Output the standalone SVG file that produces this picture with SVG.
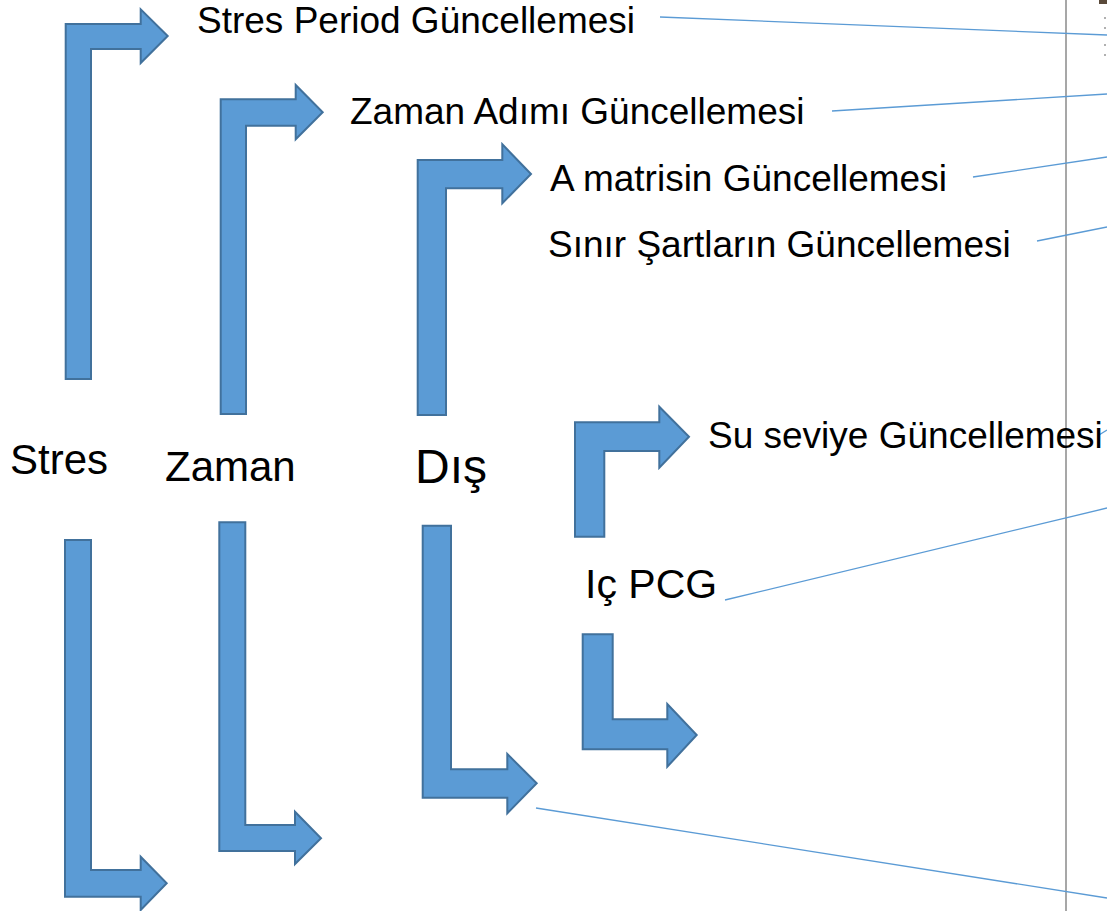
<svg xmlns="http://www.w3.org/2000/svg" width="1107" height="911" viewBox="0 0 1107 911">
  <style>
    .bend { fill: #5B9BD5; stroke: #41719C; stroke-width: 2; stroke-linejoin: miter; }
    .lbl { font-family: "Liberation Sans", Arial, sans-serif; fill: #000; }
    .conn { stroke: #5B9BD5; stroke-width: 1.3; fill: none; }
  </style>
  <rect width="1107" height="911" fill="#fff"/>

  <!-- page edge -->
  <line x1="1066" y1="0" x2="1066" y2="911" stroke="#8a8a8a" stroke-width="1.5"/>
  <rect x="1099" y="0" width="8" height="4" fill="#5a4a3a"/>
  <g fill="#b0b0b0">
    <rect x="1104" y="17" width="2" height="2"/>
    <rect x="1104" y="27" width="2" height="2"/>
    <rect x="1104" y="44" width="2" height="2"/>
    <rect x="1104" y="54" width="2" height="2"/>
  </g>

  <!-- connectors -->
  <g id="connectors">
    <line class="conn" x1="660" y1="17" x2="1107" y2="35"/>
    <line class="conn" x1="832" y1="111" x2="1107" y2="94"/>
    <line class="conn" x1="973" y1="177" x2="1107" y2="157"/>
    <line class="conn" x1="1037" y1="241" x2="1107" y2="227"/>
    <line class="conn" x1="1099" y1="435" x2="1107" y2="430"/>
    <line class="conn" x1="725" y1="600" x2="1107" y2="508"/>
    <line class="conn" x1="536" y1="808" x2="1107" y2="898"/>
  </g>

  <!-- stress period loop -->
  <g id="stres-start">
    <path class="bend" d="M65.7,379 V24 H140.7 V9.3 L167.7,36 L140.7,63 V49 H91 V379 Z"/>
  </g>
  <g id="stres-end">
    <path class="bend" d="M65,540 H91 V870 H140.7 V856.7 L166.7,883.3 L140.7,910 V896.7 H65 Z"/>
  </g>
  <g id="stres">
    <text class="lbl" x="10" y="474" font-size="42">Stres</text>
  </g>
  <g id="stres-period">
    <text class="lbl" x="197" y="33" font-size="37">Stres Period Güncellemesi</text>
  </g>

  <!-- time step loop -->
  <g id="zaman-start">
    <path class="bend" d="M220.7,414 V99.3 H295.7 V85 L322.7,112.3 L295.7,139.3 V125.7 H246 V414 Z"/>
  </g>
  <g id="zaman-end">
    <path class="bend" d="M219.3,522.3 H245.3 V825 H295 V811.7 L321,838.3 L295,864 V851 H219.3 Z"/>
  </g>
  <g id="zaman">
    <text class="lbl" x="165" y="481" font-size="42">Zaman</text>
  </g>
  <g id="zaman-adimi">
    <text class="lbl" x="350" y="124" font-size="37">Zaman Adımı Güncellemesi</text>
  </g>

  <!-- outer iteration loop -->
  <g id="dis-start">
    <path class="bend" d="M417.7,415 V160 H502.3 V144.3 L531,174 L502.3,203.3 V188.3 H446 V415 Z"/>
  </g>
  <g id="dis-end">
    <path class="bend" d="M422.7,525.7 H451 V769.3 H507.3 V754 L536.7,783.3 L507.3,813.3 V797.7 H422.7 Z"/>
  </g>
  <g id="dis">
    <text class="lbl" x="415" y="483" font-size="48">Dış</text>
  </g>
  <g id="a-matrisi">
    <text class="lbl" x="550" y="191" font-size="37">A matrisin Güncellemesi</text>
  </g>
  <g id="sinir-sartlari">
    <text class="lbl" x="548" y="257" font-size="37">Sınır Şartların Güncellemesi</text>
  </g>

  <!-- inner PCG loop -->
  <g id="ic-start">
    <path class="bend" d="M575,536.7 V422.3 H659.3 V406.7 L689,436.7 L659.3,467.7 V451 H604.3 V536.7 Z"/>
  </g>
  <g id="ic-end">
    <path class="bend" d="M582.7,634.3 H612.7 V719.3 H667.3 V704 L696.7,735 L667.3,766.7 V749.3 H582.7 Z"/>
  </g>
  <g id="su-seviye">
    <text class="lbl" x="708" y="448" font-size="37">Su seviye Güncellemesi</text>
  </g>
  <g id="ic-pcg">
    <text class="lbl" x="585" y="598" font-size="41">Iç PCG</text>
  </g>
</svg>
